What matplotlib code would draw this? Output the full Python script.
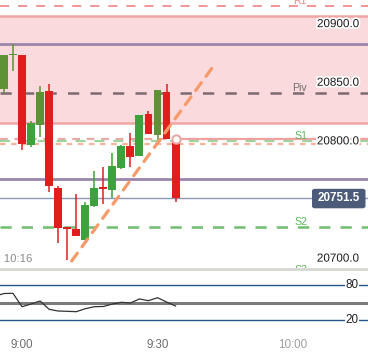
import numpy as np
import matplotlib
matplotlib.use("Agg")
import matplotlib.pyplot as plt
import matplotlib.patheffects as pe
from matplotlib.patches import FancyBboxPatch

plt.rcParams['font.family'] = ['Liberation Sans', 'DejaVu Sans']

# 2-минутные свечи
times = ["8:56", "8:58", "9:00", "9:02", "9:04", "9:06", "9:08", "9:10", "9:12", "9:14",
         "9:16", "9:18", "9:20", "9:22", "9:24", "9:26", "9:28", "9:30", "9:32", "9:34"]
opens = [20845.0, 20873.5, 20873.7, 20797.2, 20814.2, 20843.0, 20760.5, 20727.0, 20725.3, 20715.9,
         20745.3, 20761.3, 20758.8, 20777.6, 20796.1, 20787.8, 20823.4, 20805.7, 20842.2, 20802.3]
highs = [20874.0, 20882.7, 20873.7, 20817.4, 20847.3, 20849.0, 20762.2, 20727.0, 20754.9, 20748.5,
         20774.7, 20778.4, 20790.1, 20797.2, 20807.4, 20822.5, 20826.0, 20843.9, 20849.0, 20802.3]
lows = [20841.6, 20860.3, 20792.7, 20795.5, 20803.8, 20757.1, 20713.6, 20698.8, 20719.3, 20715.9,
        20744.3, 20746.6, 20752.0, 20776.5, 20778.4, 20787.8, 20806.6, 20801.2, 20801.8, 20748.6]
closes = [20873.7, 20874.0, 20798.0, 20815.7, 20842.2, 20761.9, 20726.4, 20725.3, 20719.3, 20745.7,
          20760.5, 20759.6, 20779.0, 20796.1, 20787.0, 20822.5, 20806.6, 20843.9, 20801.8, 20751.5]
# осциллятор (0..100)
osc = [66.0, 66.4, 43.0, 47.7, 53.0, 38.5, 35.5, 35.0, 34.3, 39.5,
       43.0, 43.4, 47.7, 50.7, 49.5, 56.5, 53.5, 58.7, 51.2, 44.2]

# уровни
r1 = 20915.1
piv = 20841.3
s1 = 20800.0
s2 = 20726.6
s3 = 20686.0
zone = [20815.7, 20906.6]
purple_lines = [20882.8, 20768.2]
pink_dash = 20801.9
orange_dash = 20797.7
ray_start = ["9:34", 20802.3]
last_price = 20751.5
trend_t = ["9:11", "9:42.6"]
trend_p = [20698.0, 20865.4]
price_ticks = [20900.0, 20850.0, 20800.0, 20700.0]
time_ticks = ["9:00", "9:30", "10:00"]


def to_min(s):
    h, m = s.split(":")
    return (int(h) - 9) * 60 + float(m)


t = np.array([to_min(s) for s in times])
o, h, l, c = map(np.array, (opens, highs, lows, closes))

olive = [True, True, False, False, True, False, False, False, False, False,
         False, False, False, False, False, False, False, True, False, False]
cols = []
for i in range(len(t)):
    if c[i] >= o[i]:
        cols.append('#5e9234' if olive[i] else '#3da23d')
    else:
        cols.append('#e01e1e')

fig = plt.figure(figsize=(3.68, 3.52), dpi=100)
ax = fig.add_axes([0, 84 / 352, 1, 268 / 352])
ax2 = fig.add_axes([0, 17 / 352, 1, 65 / 352])

xlim = (-4.87, 76.6)
for a in (ax, ax2):
    a.set_xlim(*xlim)
    a.axis('off')
ax.set_ylim(20692.0, 20920.6)
ax2.set_ylim(-6.3, 107.0)

# зона
ax.axhspan(zone[0], zone[1], color='#fadadc', zorder=0, lw=0)
for z in zone:
    ax.axhline(z, color='#f0a4a4', lw=1.8, zorder=1)

ax.axhline(r1, color='#f08c8c', lw=1.3, ls=(0, (5, 5)), zorder=1)
for pl in purple_lines:
    ax.axhline(pl, color='#9a86aa', lw=2, zorder=1)
ax.axhline(piv, color='#7e6a70', lw=1.8, ls=(0, (4.5, 4.5)), zorder=1)
ax.axhline(pink_dash, color='#eaa8a8', lw=1.6, ls=(0, (3.5, 3)), zorder=1)
ax.axhline(s1, color='#9fd49f', lw=1.6, ls=(0, (4.5, 4)), zorder=1)
ax.axhline(orange_dash, color='#f6b49a', lw=1.6, ls=(0, (2.5, 2.5)), zorder=1)
ax.axhline(s2, color='#6fbf6f', lw=1.8, ls=(0, (4.5, 4)), zorder=1)
ax.axhline(last_price, color='#8e98b2', lw=1, zorder=1)

rs = to_min(ray_start[0])
ax.plot([rs, xlim[1]], [ray_start[1], ray_start[1]], color='#f0a0a0', lw=1.5, zorder=1)

# свечи
w = 1.75
ax.vlines(t, l, h, colors=cols, lw=1.1, zorder=3)
body_lo = np.minimum(o, c)
body_h = np.maximum(np.abs(c - o), 0.9)
ax.bar(t, body_h, w, bottom=body_lo, color=cols, zorder=4, lw=0)

# трендовая линия
ax.plot([to_min(s) for s in trend_t], trend_p, color='#f69a6a', lw=2.3,
        ls=(0, (3, 2.5)), zorder=5, solid_capstyle='round', dash_capstyle='round')
ax.plot(rs, ray_start[1], 'o', ms=6, mfc='white', mec='#e8a8a8', mew=1.5, zorder=6)

halo = [pe.withStroke(linewidth=2.5, foreground='white')]
tr = ax.get_yaxis_transform()
for p in price_ticks:
    ax.text(359 / 368, p, f"{p:.1f}", transform=tr, ha='right', va='center',
            fontsize=8.4, color='#1a1a1a', path_effects=halo, zorder=7)

lab = [("R1", r1, '#f08c8c'), ("Piv", piv, '#707070'), ("S1", s1, '#5cb85c'),
       ("S2", s2, '#5cb85c'), ("S3", s3, '#5cb85c')]
for name, p, col in lab:
    ax.text(307 / 368, p, name, transform=tr, ha='right', va='bottom',
            fontsize=7.6, color=col, zorder=7, clip_on=True)

ax.text(338.7 / 368, last_price, f"{last_price:.1f}", transform=tr, ha='center', va='center',
        fontsize=8.4, color='white', fontweight='bold', zorder=9)
box = FancyBboxPatch((312 / 368, 0), 53.5 / 368, 19.5 / 268, transform=ax.transAxes,
                     boxstyle='round,pad=0,rounding_size=0.008', fc='#4b5b79', ec='none', zorder=8)
box.set_y((268 - 208.3) / 268)
ax.add_patch(box)

fig.text(32 / 368, 1 - 258.5 / 352, "25 10:16", ha='right', va='center', fontsize=8.1, color='#8a8a8a')
fig.add_artist(plt.Line2D([0, 1], [1 - 268.5 / 352] * 2, color='#d6d6d2', lw=2))

# нижняя панель
ax2.axhline(80, color='#2b5688', lw=1, zorder=1)
ax2.axhline(20, color='#2b5688', lw=1, zorder=1)
ax2.axhline(50, color='#7a7a7a', lw=2.2, zorder=1)
ax2.plot(np.concatenate([[xlim[0]], t]), [osc[0] - 2] + osc, color='#333333', lw=0.9, zorder=2)
tr2 = ax2.get_yaxis_transform()
for v in (80, 20):
    ax2.text(352 / 368, v, str(v), transform=tr2, ha='center', va='center', fontsize=8.4,
             color='#222222', bbox=dict(fc='white', ec='none', pad=0.6), zorder=3)

for s in time_ticks:
    m = to_min(s)
    xf = (m - xlim[0]) / (xlim[1] - xlim[0])
    fig.text(xf, 1 - 345 / 352, s, ha='center', va='center', fontsize=8.4,
             color='#a0a0a0' if m > 40 else '#6e6e6e')

fig.savefig("out.png", dpi=100)
